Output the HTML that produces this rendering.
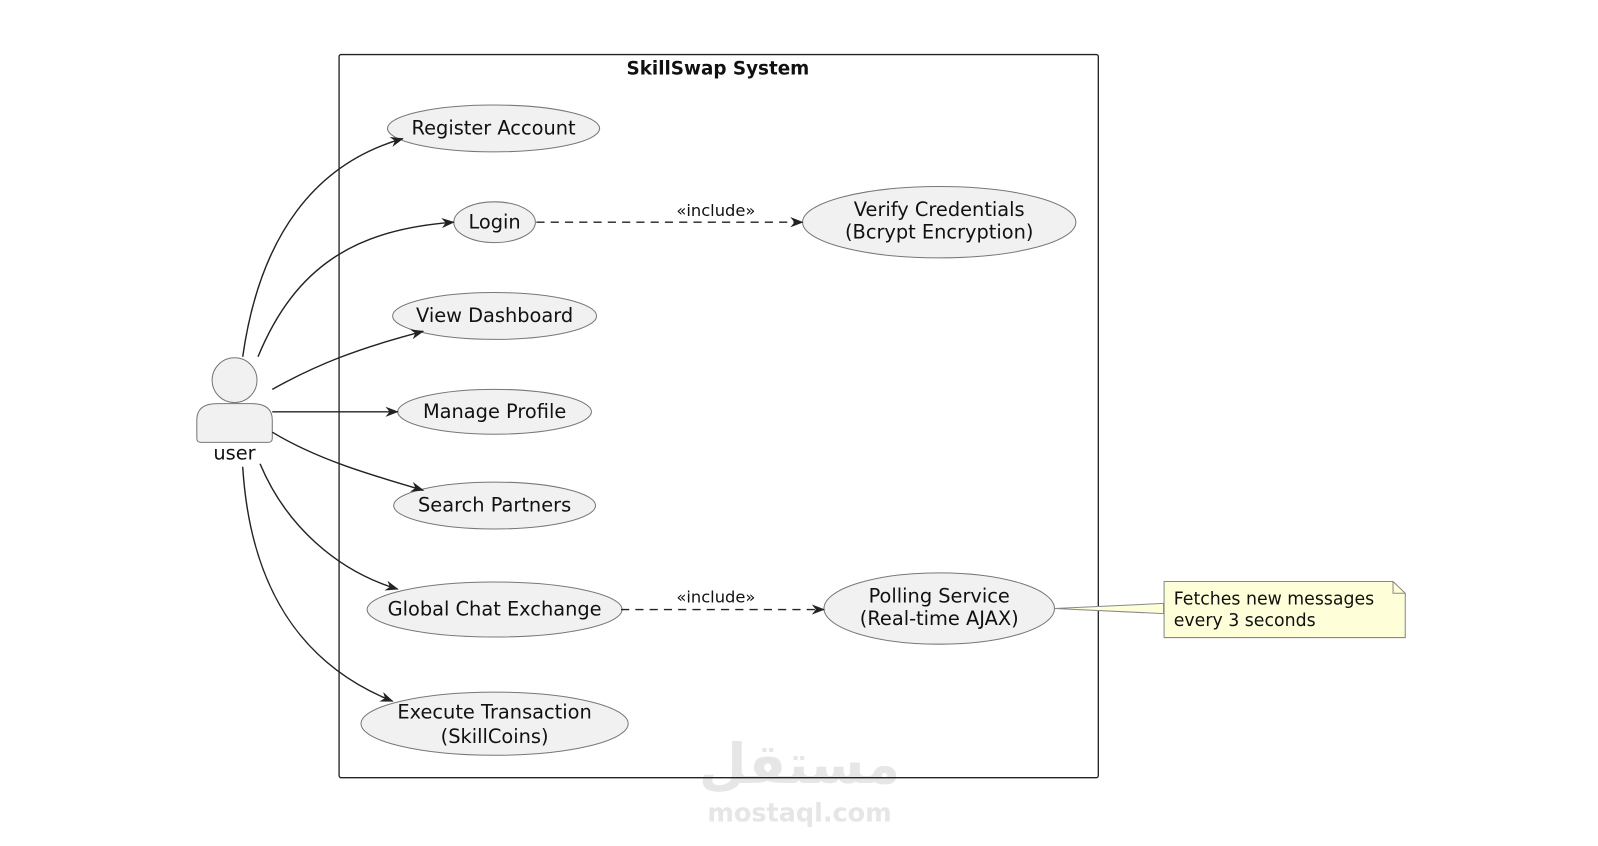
<!DOCTYPE html>
<html><head><meta charset="utf-8"><style>
html,body{margin:0;padding:0;background:#fff;width:1598px;height:846px;overflow:hidden}
svg{display:block}
text{font-family:"DejaVu Sans","Liberation Sans",sans-serif;fill:#111}
</style></head><body>
<svg width="1598" height="846" viewBox="0 0 1567 830" preserveAspectRatio="none" xmlns="http://www.w3.org/2000/svg">
<defs>
<marker id="a" markerWidth="14" markerHeight="12" refX="12" refY="5" orient="auto" markerUnits="userSpaceOnUse">
<path d="M0,0 L13,5 L0,10 L4,5 z" fill="#222"/>
</marker>
</defs>
<text x="784" y="768" font-size="54" text-anchor="middle" style="fill:#e6e6e6;font-family:'DejaVu Sans',sans-serif;font-weight:bold">مستقل</text>
<text x="784" y="806" font-size="25" text-anchor="middle" style="fill:#e6e6e6;font-weight:bold">mostaql.com</text>

<rect x="332.5" y="53.5" width="744.5" height="709.5" rx="2" fill="none" stroke="#222" stroke-width="1.3"/>
<text x="704" y="73" font-size="18" font-weight="bold" text-anchor="middle">SkillSwap System</text>

<g fill="#f1f1f1" stroke="#777" stroke-width="1">
<ellipse cx="484" cy="126" rx="104" ry="23"/>
<ellipse cx="485" cy="218" rx="40" ry="20"/>
<ellipse cx="921" cy="218" rx="134" ry="35"/>
<ellipse cx="485" cy="310" rx="100" ry="23"/>
<ellipse cx="485" cy="404" rx="95" ry="22"/>
<ellipse cx="485" cy="496" rx="99" ry="23"/>
<ellipse cx="485" cy="598" rx="125" ry="27"/>
<ellipse cx="921" cy="597" rx="113" ry="35"/>
<ellipse cx="485" cy="710" rx="131" ry="31"/>
</g>
<g font-size="19" text-anchor="middle">
<text x="484" y="132">Register Account</text>
<text x="485" y="224">Login</text>
<text x="921" y="212">Verify Credentials</text>
<text x="921" y="234">(Bcrypt Encryption)</text>
<text x="485" y="316">View Dashboard</text>
<text x="485" y="410">Manage Profile</text>
<text x="485" y="502">Search Partners</text>
<text x="485" y="604">Global Chat Exchange</text>
<text x="921" y="591">Polling Service</text>
<text x="921" y="613">(Real-time AJAX)</text>
<text x="485" y="705">Execute Transaction</text>
<text x="485" y="729">(SkillCoins)</text>
</g>

<g fill="#f1f1f1" stroke="#777" stroke-width="1">
<circle cx="230" cy="373" r="22"/>
<path d="M193,430 L193,412 Q193,396 213,396 L247,396 Q267,396 267,412 L267,430 Q267,434 263,434 L197,434 Q193,434 193,430 z"/>
</g>
<text x="230" y="451" font-size="19" text-anchor="middle">user</text>

<g fill="none" stroke="#222" stroke-width="1.4" marker-end="url(#a)">
<path d="M238,350 C255,230 310,160 395,136"/>
<path d="M253,350 C290,260 350,225 445,218"/>
<path d="M267,382 C310,358 350,342 415,325"/>
<path d="M267,404 L390,404"/>
<path d="M267,424 C310,450 360,465 415,481"/>
<path d="M255,455 C280,515 330,560 390,578"/>
<path d="M238,458 C245,570 290,650 385,688"/>
<path d="M526,218 L787,218" stroke-dasharray="8,6"/>
<path d="M609,598 L808,598" stroke-dasharray="8,6"/>
</g>
<text x="702" y="212" font-size="16" text-anchor="middle">«include»</text>
<text x="702" y="591" font-size="16" text-anchor="middle">«include»</text>

<path d="M1034,597 L1141,592 L1141,602 z" fill="#fefed9" stroke="#888" stroke-width="1"/>
<path d="M1141.5,570.5 L1366,570.5 L1378,582 L1378,625.5 L1141.5,625.5 z" fill="#fefed9" stroke="#888" stroke-width="1"/>
<path d="M1366,570.5 L1366,582 L1378,582" fill="none" stroke="#888" stroke-width="1"/>
<text x="1151" y="593" font-size="17">Fetches new messages</text>
<text x="1151" y="614" font-size="17">every 3 seconds</text>
</svg>
</body></html>
